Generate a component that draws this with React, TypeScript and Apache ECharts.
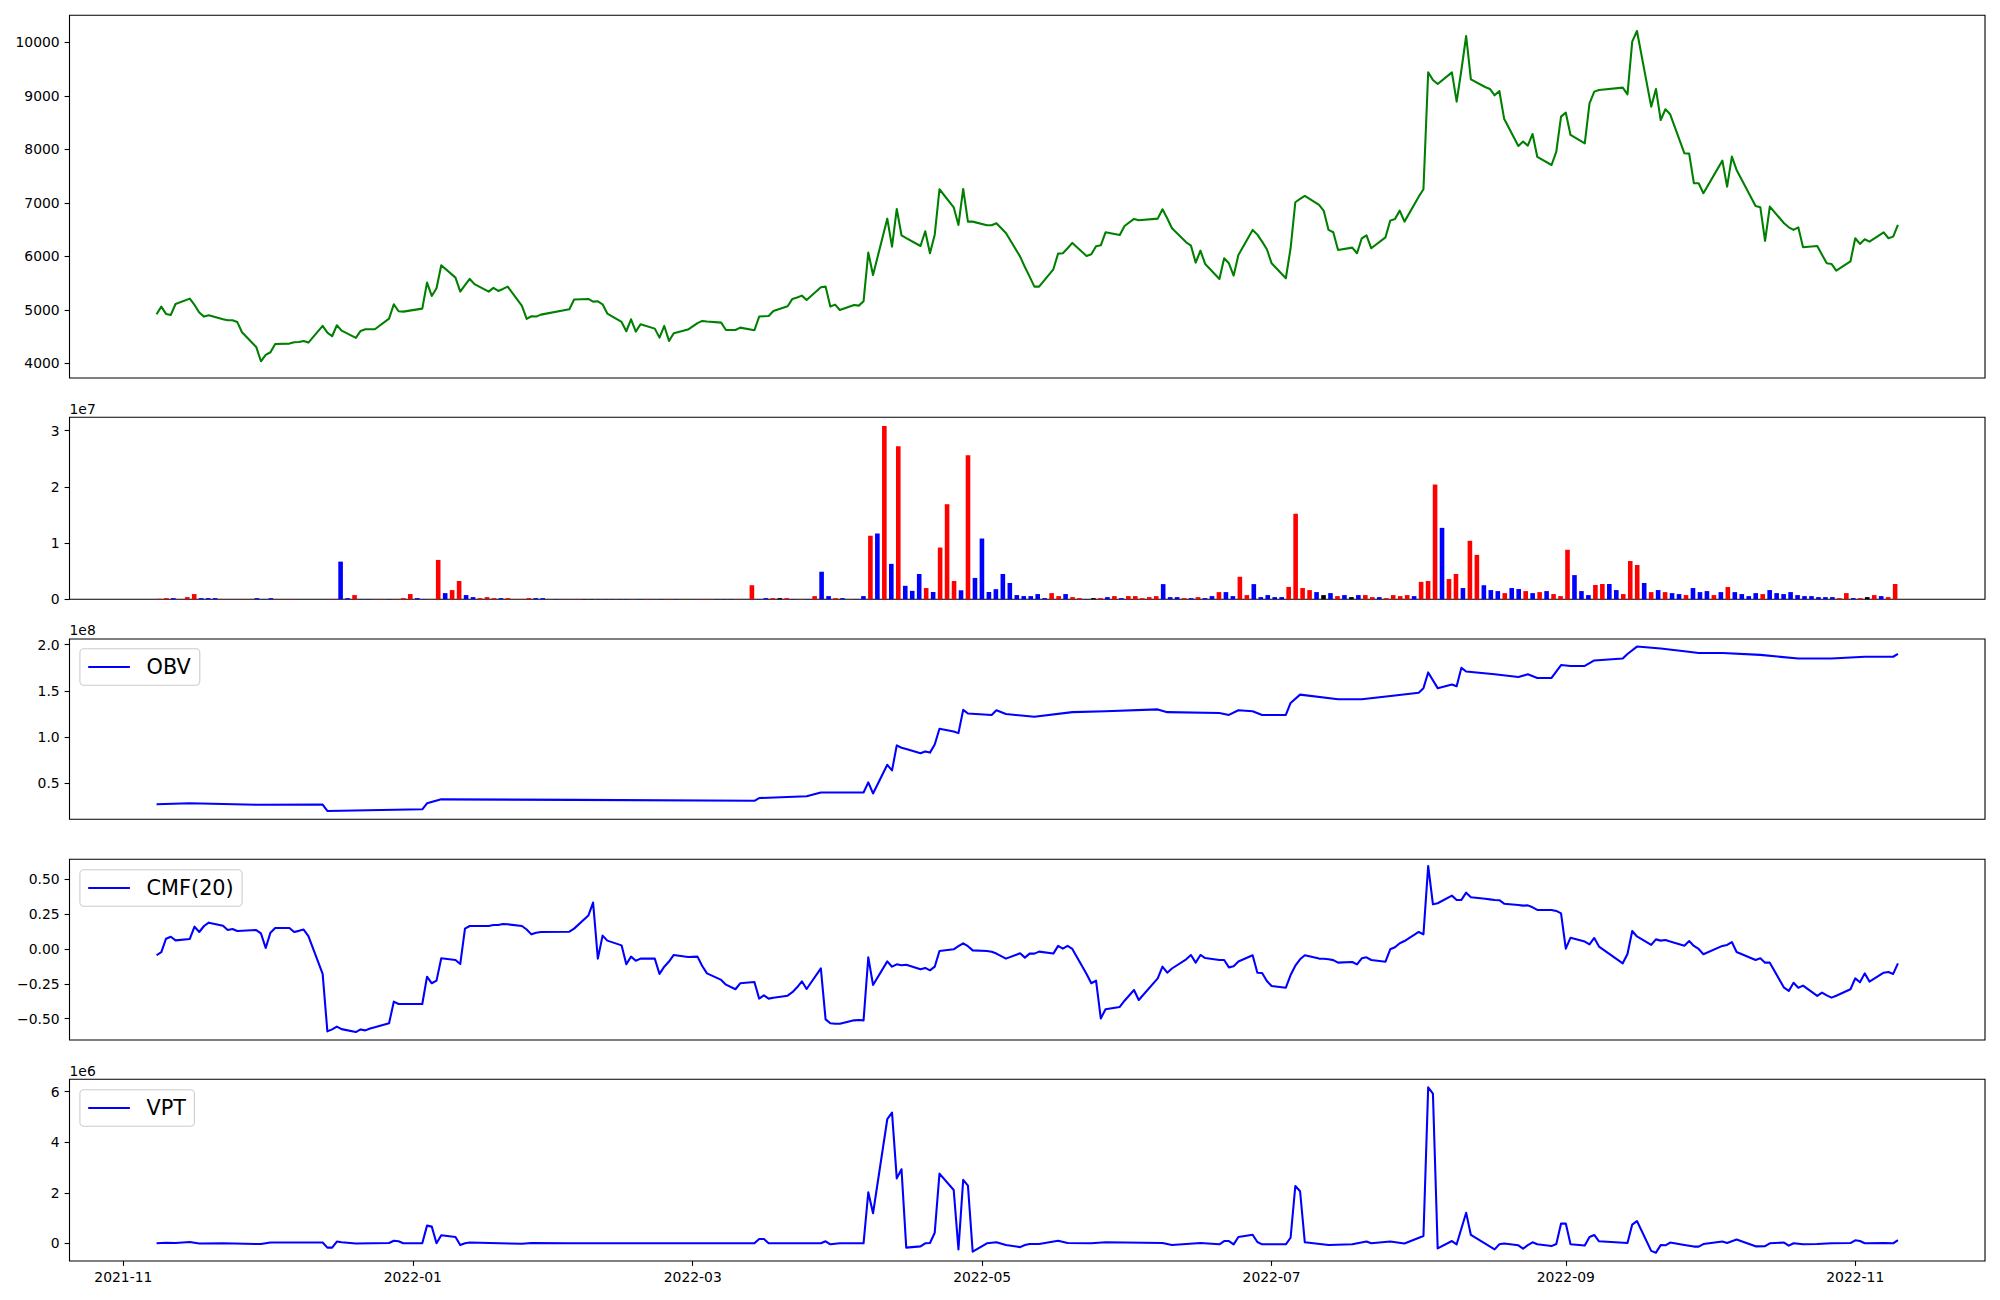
import React, { useEffect, useRef } from "react";
import * as echarts from "echarts";

// ---------------- DATA ----------------
const priceSeries: [string, number][] = [
["2021-11-08",4916],["2021-11-09",5060],["2021-11-10",4923],["2021-11-11",4904],["2021-11-12",5109],
["2021-11-15",5209],["2021-11-16",5091],["2021-11-17",4948],["2021-11-18",4873],["2021-11-19",4898],
["2021-11-22",4823],["2021-11-23",4804],["2021-11-24",4804],["2021-11-25",4773],["2021-11-26",4580],
["2021-11-29",4306],["2021-11-30",4038],["2021-12-01",4156],["2021-12-02",4206],["2021-12-03",4362],
["2021-12-06",4368],["2021-12-07",4393],["2021-12-08",4399],["2021-12-09",4418],["2021-12-10",4387],
["2021-12-13",4698],["2021-12-14",4573],["2021-12-15",4505],["2021-12-16",4711],["2021-12-17",4611],
["2021-12-20",4474],["2021-12-21",4605],["2021-12-22",4636],["2021-12-23",4636],["2021-12-24",4636],
["2021-12-27",4835],["2021-12-28",5103],["2021-12-29",4972],["2021-12-30",4966],
["2022-01-03",5022],["2022-01-04",5508],["2022-01-05",5259],["2022-01-06",5402],["2022-01-07",5832],
["2022-01-10",5602],["2022-01-11",5340],["2022-01-12",5460],["2022-01-13",5577],["2022-01-14",5480],
["2022-01-17",5340],["2022-01-18",5409],["2022-01-19",5352],["2022-01-20",5390],["2022-01-21",5433],
["2022-01-24",5072],["2022-01-25",4829],["2022-01-26",4879],["2022-01-27",4873],["2022-01-28",4910],
["2022-02-03",5010],["2022-02-04",5191],["2022-02-07",5203],["2022-02-08",5153],["2022-02-09",5159],["2022-02-10",5103],["2022-02-11",4929],
["2022-02-14",4773],["2022-02-15",4599],["2022-02-16",4823],["2022-02-17",4592],["2022-02-18",4729],
["2022-02-21",4648],["2022-02-22",4480],["2022-02-23",4698],["2022-02-24",4418],["2022-02-25",4561],
["2022-02-28",4630],["2022-03-02",4750],["2022-03-03",4792],["2022-03-04",4780],
["2022-03-07",4760],["2022-03-08",4623],["2022-03-10",4623],["2022-03-11",4667],
["2022-03-14",4617],["2022-03-15",4873],["2022-03-16",4880],["2022-03-17",4885],["2022-03-18",4979],
["2022-03-21",5066],["2022-03-22",5203],["2022-03-23",5230],["2022-03-24",5265],["2022-03-25",5184],
["2022-03-28",5421],["2022-03-29",5433],["2022-03-30",5060],["2022-03-31",5097],["2022-04-01",4997],
["2022-04-04",5091],["2022-04-05",5078],["2022-04-06",5159],["2022-04-07",6069],["2022-04-08",5651],
["2022-04-11",6704],["2022-04-12",6181],["2022-04-13",6885],["2022-04-14",6393],["2022-04-15",6340],
["2022-04-18",6193],["2022-04-19",6468],["2022-04-20",6057],["2022-04-21",6405],["2022-04-22",7253],
["2022-04-25",6916],["2022-04-26",6586],["2022-04-27",7259],["2022-04-28",6648],["2022-04-29",6648],
["2022-05-02",6580],["2022-05-03",6580],["2022-05-04",6617],["2022-05-06",6437],
["2022-05-09",5994],["2022-05-10",5800],["2022-05-11",5620],["2022-05-12",5433],["2022-05-13",5433],
["2022-05-16",5757],["2022-05-17",6050],["2022-05-18",6057],["2022-05-19",6150],["2022-05-20",6250],
["2022-05-23",6007],["2022-05-24",6038],["2022-05-25",6187],["2022-05-26",6206],["2022-05-27",6449],
["2022-05-30",6399],["2022-05-31",6567],["2022-06-02",6698],["2022-06-03",6673],
["2022-06-07",6704],["2022-06-08",6879],["2022-06-09",6710],["2022-06-10",6524],
["2022-06-13",6262],["2022-06-14",6200],["2022-06-15",5882],["2022-06-16",6106],["2022-06-17",5857],
["2022-06-20",5577],["2022-06-21",5963],["2022-06-22",5869],["2022-06-23",5639],["2022-06-24",6025],
["2022-06-27",6493],["2022-06-28",6405],["2022-06-29",6274],["2022-06-30",6131],["2022-07-01",5869],
["2022-07-04",5589],["2022-07-05",6150],["2022-07-06",7010],["2022-07-07",7072],["2022-07-08",7128],
["2022-07-11",6960],["2022-07-12",6848],["2022-07-13",6493],["2022-07-14",6449],["2022-07-15",6118],
["2022-07-18",6162],["2022-07-19",6057],["2022-07-20",6337],["2022-07-21",6393],["2022-07-22",6150],
["2022-07-25",6355],["2022-07-26",6667],["2022-07-27",6698],["2022-07-28",6854],["2022-07-29",6648],
["2022-08-01",7115],["2022-08-02",7253],["2022-08-03",9439],["2022-08-04",9296],["2022-08-05",9221],
["2022-08-08",9439],["2022-08-09",8891],["2022-08-10",9483],["2022-08-11",10118],["2022-08-12",9308],
["2022-08-15",9165],["2022-08-16",9128],["2022-08-17",9009],["2022-08-18",9090],["2022-08-19",8573],
["2022-08-22",8062],["2022-08-23",8144],["2022-08-24",8069],["2022-08-25",8287],["2022-08-26",7857],
["2022-08-29",7707],["2022-08-30",7957],["2022-08-31",8611],["2022-09-01",8685],["2022-09-02",8268],
["2022-09-05",8112],["2022-09-06",8860],["2022-09-07",9078],["2022-09-08",9110],
["2022-09-13",9153],["2022-09-14",9028],["2022-09-15",10012],["2022-09-16",10212],
["2022-09-19",8798],["2022-09-20",9128],["2022-09-21",8548],["2022-09-22",8748],["2022-09-23",8654],
["2022-09-26",7925],["2022-09-27",7919],["2022-09-28",7365],["2022-09-29",7365],["2022-09-30",7178],
["2022-10-04",7788],["2022-10-05",7302],["2022-10-06",7863],["2022-10-07",7614],
["2022-10-11",6941],["2022-10-12",6916],["2022-10-13",6287],["2022-10-14",6928],
["2022-10-17",6617],["2022-10-18",6542],["2022-10-19",6493],["2022-10-20",6542],["2022-10-21",6169],
["2022-10-24",6193],["2022-10-25",6030],["2022-10-26",5869],["2022-10-27",5857],["2022-10-28",5732],
["2022-10-31",5907],["2022-11-01",6337],["2022-11-02",6231],["2022-11-03",6318],["2022-11-04",6274],
["2022-11-07",6449],["2022-11-08",6337],["2022-11-09",6368],["2022-11-10",6586]
];

// daily volume, in millions of shares, one per trading session (index axis)
const volumeMillions: number[] = [
0.09,0.21,0.21,0.03,0.39,0.93,0.21,0.21,0.21,0.05,
0.05,0.05,0.05,0.05,0.21,0.05,0.21,0.05,0.05,0.05,
0,0,0,0,0,0.05,6.7,0.21,0.75,0.05,
0.05,0.05,0.05,0.05,0.05,0.21,0.93,0.21,0.05,0.05,
7.0,1.1,1.64,3.25,0.75,0.39,0.21,0.39,0.21,0.21,
0.21,0.05,0.05,0.21,0.21,0.21,0.05,0.05,0.05,0.05,
0.05,0.05,0.05,0.05,0.05,0.05,0.05,0.05,0.05,0.05,
0.05,0,0.05,0.05,0.05,0.05,0,0.05,0.05,0.05,
0.05,0.05,0.05,0.05,0,2.5,0.05,0.21,0.21,0.21,
0.21,0.05,0.05,0.05,0.57,4.9,0.57,0.21,0.21,0.05,
0.05,0.57,11.3,11.7,30.8,6.3,27.2,2.4,1.5,4.5,
2.0,1.3,9.2,16.9,3.25,1.6,25.6,3.8,10.8,1.3,
1.8,4.5,2.9,0.75,0.57,0.57,0.93,0.21,1.1,0.57,
0.93,0.39,0.21,0.05,0.21,0.21,0.39,0.57,0.21,0.57,
0.57,0.21,0.39,0.57,2.7,0.39,0.39,0.21,0.21,0.39,
0.21,0.57,1.28,1.28,0.57,4.0,0.75,2.7,0.39,0.75,
0.39,0.39,2.2,15.2,2.0,1.64,1.28,0.75,1.1,0.57,
0.75,0.39,0.75,0.75,0.39,0.39,0.21,0.75,0.57,0.75,
0.57,3.1,3.25,20.4,12.7,3.6,4.5,2.0,10.4,7.9,
2.5,1.64,1.46,1.1,2.0,1.82,1.46,1.1,1.28,1.46,
0.93,0.57,8.8,4.3,1.46,0.75,2.54,2.72,2.72,1.64,
0.93,6.8,6.1,2.9,1.28,1.64,1.28,1.1,0.93,0.75,
2.0,1.28,1.46,0.75,1.28,2.18,1.28,0.93,0.57,1.1,
0.93,1.64,1.1,0.93,1.28,0.75,0.57,0.57,0.39,0.39,
0.39,0.21,1.1,0.21,0.21,0.39,0.75,0.57,0.39,2.72
];

// r = up session, b = down session, k = unchanged, - = none
const volumeDirection: string =
  "rrbrrrbbbr" + "rrrrbbbrrr" + "-----rbbrb" + "brrbrrrbbr" + "rbrrbbrrrb" +
  "rrrrbbrbrr" + "rkkbbbbbrb" + "r-brbr-rrr" + "bbbr-rbbrk" + "rbrbrbbrbr" +
  "bbrbrbrbbb" + "rbrrrbrbbb" + "bbbbbbbbrr" + "brrbkrbrbr" + "rrrrbbbrbr" +
  "bbrbbrrbbb" + "bbrrrrbkbr" + "bkbrrbrrrr" + "brrrbrrbrr" + "bbbrbbrbrb" +
  "rrrbbbrrbb" + "rrrbrbrbbr" + "bbbrbrbbbb" + "rbbbbbbbbb" + "brrbrkrbrr";

// OBV in units of 1e8
const obvSeries: [string, number][] = [
["2021-11-08",0.273],["2021-11-15",0.283],["2021-11-29",0.268],["2021-12-13",0.270],["2021-12-14",0.200],
["2022-01-03",0.218],["2022-01-04",0.283],["2022-01-07",0.326],["2022-02-04",0.320],["2022-03-14",0.310],
["2022-03-15",0.340],["2022-03-25",0.360],["2022-03-28",0.400],["2022-04-06",0.400],["2022-04-07",0.510],
["2022-04-08",0.390],["2022-04-11",0.700],["2022-04-12",0.640],["2022-04-13",0.910],["2022-04-14",0.885],
["2022-04-15",0.870],["2022-04-18",0.825],["2022-04-19",0.845],["2022-04-20",0.832],["2022-04-21",0.920],
["2022-04-22",1.090],["2022-04-25",1.060],["2022-04-26",1.043],["2022-04-27",1.295],["2022-04-28",1.255],
["2022-05-03",1.240],["2022-05-04",1.290],["2022-05-06",1.250],["2022-05-12",1.220],["2022-05-20",1.270],
["2022-05-27",1.280],["2022-06-07",1.300],["2022-06-09",1.270],["2022-06-20",1.260],["2022-06-22",1.240],
["2022-06-24",1.290],["2022-06-27",1.280],["2022-06-29",1.240],["2022-07-04",1.240],["2022-07-05",1.370],
["2022-07-07",1.460],["2022-07-15",1.410],["2022-07-20",1.410],["2022-07-27",1.450],["2022-08-01",1.480],
["2022-08-02",1.530],["2022-08-03",1.700],["2022-08-05",1.530],["2022-08-08",1.570],["2022-08-09",1.550],
["2022-08-10",1.750],["2022-08-11",1.710],["2022-08-17",1.680],["2022-08-22",1.650],["2022-08-24",1.680],
["2022-08-26",1.640],["2022-08-29",1.640],["2022-08-31",1.780],["2022-09-02",1.770],["2022-09-05",1.770],
["2022-09-07",1.830],["2022-09-13",1.850],["2022-09-14",1.900],["2022-09-16",1.980],["2022-09-21",1.960],
["2022-09-26",1.930],["2022-09-29",1.910],["2022-10-04",1.910],["2022-10-12",1.890],["2022-10-20",1.850],
["2022-10-27",1.850],["2022-11-03",1.870],["2022-11-09",1.870],["2022-11-10",1.900]
];

const cmfSeries: [string, number][] = [
["2021-11-08",-0.045],["2021-11-09",-0.022],["2021-11-10",0.074],["2021-11-11",0.088],["2021-11-12",0.062],
["2021-11-15",0.072],["2021-11-16",0.160],["2021-11-17",0.122],["2021-11-18",0.165],["2021-11-19",0.189],
["2021-11-22",0.167],["2021-11-23",0.136],["2021-11-24",0.143],["2021-11-25",0.129],["2021-11-26",0.131],
["2021-11-29",0.136],["2021-11-30",0.112],["2021-12-01",0.007],["2021-12-02",0.117],["2021-12-03",0.151],
["2021-12-06",0.151],["2021-12-07",0.122],["2021-12-08",0.130],["2021-12-09",0.139],["2021-12-10",0.093],
["2021-12-13",-0.179],["2021-12-14",-0.591],["2021-12-15",-0.577],["2021-12-16",-0.557],["2021-12-17",-0.575],
["2021-12-20",-0.596],["2021-12-21",-0.577],["2021-12-22",-0.584],["2021-12-23",-0.570],["2021-12-24",-0.562],
["2021-12-27",-0.533],["2021-12-28",-0.378],["2021-12-29",-0.395],["2021-12-30",-0.395],
["2022-01-03",-0.395],["2022-01-04",-0.199],["2022-01-05",-0.246],["2022-01-06",-0.227],["2022-01-07",-0.067],
["2022-01-10",-0.079],["2022-01-11",-0.108],["2022-01-12",0.146],["2022-01-13",0.165],["2022-01-14",0.165],
["2022-01-17",0.165],["2022-01-18",0.172],["2022-01-19",0.172],["2022-01-20",0.179],["2022-01-21",0.177],
["2022-01-24",0.165],["2022-01-25",0.140],["2022-01-26",0.105],["2022-01-27",0.117],["2022-01-28",0.122],
["2022-02-03",0.124],["2022-02-04",0.146],["2022-02-07",0.240],["2022-02-08",0.333],["2022-02-09",-0.069],
["2022-02-10",0.096],["2022-02-11",0.060],["2022-02-14",0.026],["2022-02-15",-0.110],["2022-02-16",-0.055],
["2022-02-17",-0.084],["2022-02-18",-0.069],["2022-02-21",-0.069],["2022-02-22",-0.179],["2022-02-23",-0.127],
["2022-02-24",-0.090],["2022-02-25",-0.043],["2022-02-28",-0.057],["2022-03-02",-0.055],["2022-03-03",-0.122],
["2022-03-04",-0.175],["2022-03-07",-0.222],["2022-03-08",-0.256],["2022-03-10",-0.289],["2022-03-11",-0.246],
["2022-03-14",-0.237],["2022-03-15",-0.356],["2022-03-16",-0.333],["2022-03-17",-0.356],["2022-03-18",-0.350],
["2022-03-21",-0.335],["2022-03-22",-0.310],["2022-03-23",-0.275],["2022-03-24",-0.232],["2022-03-25",-0.287],
["2022-03-28",-0.139],["2022-03-29",-0.505],["2022-03-30",-0.533],["2022-03-31",-0.536],["2022-04-01",-0.536],
["2022-04-04",-0.512],["2022-04-05",-0.510],["2022-04-06",-0.512],["2022-04-07",-0.060],["2022-04-08",-0.258],
["2022-04-11",-0.089],["2022-04-12",-0.127],["2022-04-13",-0.110],["2022-04-14",-0.117],["2022-04-15",-0.113],
["2022-04-18",-0.146],["2022-04-19",-0.136],["2022-04-20",-0.153],["2022-04-21",-0.127],["2022-04-22",-0.014],
["2022-04-25",-0.002],["2022-04-26",0.020],["2022-04-27",0.041],["2022-04-28",0.020],["2022-04-29",-0.010],
["2022-05-02",-0.014],["2022-05-03",-0.020],["2022-05-04",-0.033],["2022-05-06",-0.069],
["2022-05-09",-0.031],["2022-05-10",-0.062],["2022-05-11",-0.033],["2022-05-12",-0.033],["2022-05-13",-0.019],
["2022-05-16",-0.033],["2022-05-17",0.022],["2022-05-18",0.002],["2022-05-19",0.022],["2022-05-20",0.000],
["2022-05-23",-0.180],["2022-05-24",-0.246],["2022-05-25",-0.227],["2022-05-26",-0.498],["2022-05-27",-0.433],
["2022-05-30",-0.416],["2022-05-31",-0.371],["2022-06-02",-0.294],["2022-06-03",-0.366],
["2022-06-07",-0.211],["2022-06-08",-0.127],["2022-06-09",-0.170],["2022-06-10",-0.140],
["2022-06-13",-0.074],["2022-06-14",-0.043],["2022-06-15",-0.098],["2022-06-16",-0.043],["2022-06-17",-0.065],
["2022-06-20",-0.079],["2022-06-21",-0.079],["2022-06-22",-0.132],["2022-06-23",-0.124],["2022-06-24",-0.090],
["2022-06-27",-0.045],["2022-06-28",-0.170],["2022-06-29",-0.172],["2022-06-30",-0.230],["2022-07-01",-0.266],
["2022-07-04",-0.278],["2022-07-05",-0.187],["2022-07-06",-0.120],["2022-07-07",-0.074],["2022-07-08",-0.045],
["2022-07-11",-0.069],["2022-07-12",-0.070],["2022-07-13",-0.074],["2022-07-14",-0.080],["2022-07-15",-0.098],
["2022-07-18",-0.093],["2022-07-19",-0.110],["2022-07-20",-0.067],["2022-07-21",-0.060],["2022-07-22",-0.079],
["2022-07-25",-0.091],["2022-07-26",-0.002],["2022-07-27",0.012],["2022-07-28",0.041],["2022-07-29",0.057],
["2022-08-01",0.122],["2022-08-02",0.105],["2022-08-03",0.596],["2022-08-04",0.321],["2022-08-05",0.328],
["2022-08-08",0.383],["2022-08-09",0.352],["2022-08-10",0.352],["2022-08-11",0.404],["2022-08-12",0.371],
["2022-08-15",0.360],["2022-08-16",0.356],["2022-08-17",0.352],["2022-08-18",0.350],["2022-08-19",0.325],
["2022-08-22",0.316],["2022-08-23",0.311],["2022-08-24",0.313],["2022-08-25",0.299],["2022-08-26",0.280],
["2022-08-29",0.280],["2022-08-30",0.273],["2022-08-31",0.256],["2022-09-01",0.002],["2022-09-02",0.081],
["2022-09-05",0.053],["2022-09-06",0.033],["2022-09-07",0.079],["2022-09-08",0.017],
["2022-09-13",-0.103],["2022-09-14",-0.036],["2022-09-15",0.129],["2022-09-16",0.090],
["2022-09-19",0.029],["2022-09-20",0.069],["2022-09-21",0.060],["2022-09-22",0.064],["2022-09-23",0.053],
["2022-09-26",0.024],["2022-09-27",0.057],["2022-09-28",0.022],["2022-09-29",0.000],["2022-09-30",-0.038],
["2022-10-04",0.022],["2022-10-05",0.029],["2022-10-06",0.050],["2022-10-07",-0.022],
["2022-10-11",-0.079],["2022-10-12",-0.067],["2022-10-13",-0.098],["2022-10-14",-0.098],
["2022-10-17",-0.278],["2022-10-18",-0.301],["2022-10-19",-0.242],["2022-10-20",-0.278],["2022-10-21",-0.263],
["2022-10-24",-0.337],["2022-10-25",-0.313],["2022-10-26",-0.333],["2022-10-27",-0.349],["2022-10-28",-0.335],
["2022-10-31",-0.289],["2022-11-01",-0.211],["2022-11-02",-0.239],["2022-11-03",-0.175],["2022-11-04",-0.234],
["2022-11-07",-0.170],["2022-11-08",-0.165],["2022-11-09",-0.179],["2022-11-10",-0.103]
];

// VPT in units of 1e6
const vptSeries: [string, number][] = [
["2021-11-08",0.00],["2021-11-09",0.01],["2021-11-10",0.02],["2021-11-12",0.01],["2021-11-15",0.05],
["2021-11-17",-0.01],["2021-11-22",0.00],["2021-11-30",-0.03],["2021-12-02",0.03],["2021-12-10",0.03],
["2021-12-13",0.03],["2021-12-14",-0.17],["2021-12-15",-0.17],["2021-12-16",0.07],["2021-12-17",0.04],
["2021-12-20",-0.01],["2021-12-27",0.01],["2021-12-28",0.10],["2021-12-29",0.08],["2021-12-30",0.00],
["2022-01-03",0.00],["2022-01-04",0.70],["2022-01-05",0.66],["2022-01-06",0.00],["2022-01-07",0.32],
["2022-01-10",0.25],["2022-01-11",-0.07],["2022-01-12",0.00],["2022-01-13",0.03],["2022-01-24",-0.02],
["2022-01-26",0.01],["2022-02-03",0.00],["2022-03-14",0.00],["2022-03-15",0.17],["2022-03-16",0.17],
["2022-03-17",0.00],["2022-03-28",0.00],["2022-03-29",0.08],["2022-03-30",-0.04],["2022-04-01",0.00],
["2022-04-06",0.00],["2022-04-07",2.02],["2022-04-08",1.19],["2022-04-11",4.91],["2022-04-12",5.17],
["2022-04-13",2.57],["2022-04-14",2.93],["2022-04-15",-0.17],["2022-04-18",-0.12],["2022-04-19",0.00],
["2022-04-20",0.01],["2022-04-21",0.42],["2022-04-22",2.76],["2022-04-25",2.11],["2022-04-26",-0.24],
["2022-04-27",2.51],["2022-04-28",2.28],["2022-04-29",-0.33],["2022-05-02",0.00],["2022-05-04",0.04],
["2022-05-06",-0.07],["2022-05-09",-0.15],["2022-05-10",-0.07],["2022-05-11",-0.03],["2022-05-13",-0.03],
["2022-05-17",0.10],["2022-05-19",0.01],["2022-05-24",0.00],["2022-05-27",0.04],["2022-06-08",0.01],
["2022-06-10",-0.07],["2022-06-16",0.01],["2022-06-20",-0.04],["2022-06-21",0.09],["2022-06-22",0.09],
["2022-06-23",-0.04],["2022-06-24",0.25],["2022-06-27",0.34],["2022-06-28",0.05],["2022-06-29",-0.04],
["2022-07-04",-0.04],["2022-07-05",0.22],["2022-07-06",2.27],["2022-07-07",2.06],["2022-07-08",0.04],
["2022-07-13",-0.07],["2022-07-18",-0.04],["2022-07-21",0.07],["2022-07-22",0.00],["2022-07-26",0.07],
["2022-07-29",-0.01],["2022-08-02",0.29],["2022-08-03",6.17],["2022-08-04",5.92],["2022-08-05",-0.20],
["2022-08-08",0.09],["2022-08-09",-0.04],["2022-08-11",1.21],["2022-08-12",0.33],["2022-08-17",-0.24],
["2022-08-18",-0.04],["2022-08-19",-0.01],["2022-08-22",-0.08],["2022-08-23",-0.21],["2022-08-24",-0.07],
["2022-08-25",0.04],["2022-08-26",-0.04],["2022-08-29",-0.11],["2022-08-30",-0.03],["2022-08-31",0.78],
["2022-09-01",0.78],["2022-09-02",-0.04],["2022-09-05",-0.09],["2022-09-06",0.25],["2022-09-07",0.33],
["2022-09-08",0.08],["2022-09-14",0.01],["2022-09-15",0.74],["2022-09-16",0.88],["2022-09-19",-0.30],
["2022-09-20",-0.37],["2022-09-21",-0.07],["2022-09-22",-0.08],["2022-09-23",0.03],["2022-09-26",-0.07],
["2022-09-28",-0.13],["2022-09-29",-0.13],["2022-09-30",-0.03],["2022-10-04",0.07],["2022-10-05",0.01],
["2022-10-07",0.15],["2022-10-11",-0.12],["2022-10-13",-0.11],["2022-10-14",0.00],["2022-10-17",0.03],
["2022-10-18",-0.09],["2022-10-19",0.00],["2022-10-21",-0.04],["2022-10-24",-0.03],["2022-10-27",0.00],
["2022-10-31",0.01],["2022-11-01",0.12],["2022-11-02",0.09],["2022-11-03",0.00],["2022-11-07",0.01],
["2022-11-09",0.00],["2022-11-10",0.13]
];

const priceTicks = [4000, 5000, 6000, 7000, 8000, 9000, 10000];
const volumeTicks = [0, 1, 2, 3]; // x 1e7
const obvTicks = [0.5, 1.0, 1.5, 2.0]; // x 1e8
const cmfTicks = [-0.5, -0.25, 0, 0.25, 0.5];
const vptTicks = [0, 2, 4, 6]; // x 1e6
const dateTicks = ["2021-11-01", "2022-01-01", "2022-03-01", "2022-05-01", "2022-07-01", "2022-09-01", "2022-11-01"];

// ---------------- CHART ----------------
const FONT = "DejaVu Sans";
const T = (s: string) => {
  const [y, m, d] = s.split("-").map(Number);
  return Date.UTC(y, m - 1, d);
};
const pad2 = (n: number) => (n < 10 ? "0" + n : "" + n);
const X_MIN = Date.UTC(2021, 9, 20, 15, 36);
const X_MAX = Date.UTC(2022, 10, 28, 8, 24);
const N_BARS = volumeMillions.length;
const IDX_MARGIN = (N_BARS - 1 + 0.8) * 0.05;

const LEFT = 69.5;
const WIDTH = 1915.5;
const grids = [
  { top: 15.3, height: 362.7 },
  { top: 417.3, height: 182 },
  { top: 639, height: 180.3 },
  { top: 859.3, height: 180.7 },
  { top: 1079.3, height: 181.7 },
];

const tickStyle = { color: "#000", width: 1.1 };
const labelBase = { color: "#000", fontSize: 13.9, fontFamily: FONT, margin: 9.8 };

function yAxis(gridIndex: number, min: number, max: number, ticks: number[], fmt: (v: number) => string) {
  return {
    type: "value",
    gridIndex,
    min,
    max,
    position: "left",
    splitLine: { show: false },
    axisLine: { show: false, onZero: false },
    axisTick: { show: true, customValues: ticks, length: 4.9, lineStyle: tickStyle },
    axisLabel: { ...labelBase, customValues: ticks, formatter: (v: number) => fmt(v) },
  };
}

function hiddenDateAxis(gridIndex: number) {
  return { type: "value", gridIndex, min: X_MIN, max: X_MAX, show: false, axisLine: { onZero: false } };
}

function lineSeries(name: string, idx: number, data: [string, number][], scale: number, color: string) {
  return {
    name,
    type: "line",
    xAxisIndex: idx,
    yAxisIndex: idx,
    data: data.map(([d, v]) => [T(d), v * scale]),
    showSymbol: false,
    symbol: "none",
    color,
    lineStyle: { color, width: 2.08, join: "round" },
    silent: true,
    z: 3,
  };
}

function legendBox(top: number, label: string, width: number) {
  const cy = top + 18.3;
  return [
    {
      type: "rect",
      z: 100,
      shape: { x: 79.9, y: top, width, height: 36.6, r: 4 },
      style: { fill: "rgba(255,255,255,0.8)", stroke: "#cccccc", lineWidth: 1.1 },
    },
    {
      type: "line",
      z: 101,
      shape: { x1: 88.2, y1: cy, x2: 129.9, y2: cy },
      style: { stroke: "#0000ff", lineWidth: 2.08 },
    },
    {
      type: "text",
      z: 101,
      x: 146.6,
      y: cy,
      style: { text: label, fill: "#000", fontSize: 20.8, fontFamily: FONT, align: "left", verticalAlign: "middle" },
    },
  ];
}

function offsetText(cy: number, label: string) {
  return {
    type: "text",
    z: 100,
    x: LEFT,
    y: cy,
    style: { text: label, fill: "#000", fontSize: 13.9, fontFamily: FONT, align: "left", verticalAlign: "middle" },
  };
}

function buildOption() {
  const colorOf: Record<string, string> = { r: "#ff0000", b: "#0000ff", k: "#000000", "-": "#ffffff" };
  const barData = volumeMillions.map((v, i) => ({
    value: [i, v * 1e6],
    itemStyle: { color: colorOf[volumeDirection[i]] || "#000" },
  }));
  const fmtMinus = (s: string) => s.replace("-", "\u2212");

  return {
    animation: false,
    backgroundColor: "#ffffff",
    grid: grids.map((g) => ({
      left: LEFT,
      width: WIDTH,
      top: g.top,
      height: g.height,
      show: true,
      borderColor: "#000",
      borderWidth: 1.1,
      backgroundColor: "transparent",
      containLabel: false,
    })),
    xAxis: [
      hiddenDateAxis(0),
      {
        type: "value",
        gridIndex: 1,
        min: -0.4 - IDX_MARGIN,
        max: N_BARS - 1 + 0.4 + IDX_MARGIN,
        show: false,
        axisLine: { onZero: false },
      },
      hiddenDateAxis(2),
      hiddenDateAxis(3),
      {
        type: "value",
        gridIndex: 4,
        min: X_MIN,
        max: X_MAX,
        position: "bottom",
        splitLine: { show: false },
        axisLine: { show: false, onZero: false },
        axisTick: { show: true, customValues: dateTicks.map(T), length: 4.9, lineStyle: tickStyle },
        axisLabel: {
          ...labelBase,
          margin: 8.5,
          customValues: dateTicks.map(T),
          formatter: (v: number) => {
            const d = new Date(v);
            return d.getUTCFullYear() + "-" + pad2(d.getUTCMonth() + 1);
          },
        },
      },
    ],
    yAxis: [
      yAxis(0, 3725, 10505, priceTicks, (v) => String(v)),
      yAxis(1, 0, 3.235e7, volumeTicks.map((t) => t * 1e7), (v) => String(Math.round(v / 1e7))),
      yAxis(2, 0.110e8, 2.062e8, obvTicks.map((t) => t * 1e8), (v) => (v / 1e8).toFixed(1)),
      yAxis(3, -0.653, 0.6435, cmfTicks, (v) => fmtMinus(v.toFixed(2))),
      yAxis(4, -0.70e6, 6.49e6, vptTicks.map((t) => t * 1e6), (v) => String(Math.round(v / 1e6))),
    ],
    series: [
      lineSeries("Close", 0, priceSeries, 1, "#008000"),
      {
        name: "Volume",
        type: "bar",
        xAxisIndex: 1,
        yAxisIndex: 1,
        data: barData,
        barWidth: 4.6,
        silent: true,
        z: 3,
      },
      lineSeries("OBV", 2, obvSeries, 1e8, "#0000ff"),
      lineSeries("CMF(20)", 3, cmfSeries, 1, "#0000ff"),
      lineSeries("VPT", 4, vptSeries, 1e6, "#0000ff"),
    ],
    graphic: [
      offsetText(408.5, "1e7"),
      offsetText(629.5, "1e8"),
      offsetText(1070.5, "1e6"),
      ...legendBox(648.7, "OBV", 119.9),
      ...legendBox(869.7, "CMF(20)", 162.2),
      ...legendBox(1089.7, "VPT", 114.5),
    ],
  };
}

export default function App() {
  const ref = useRef<HTMLDivElement>(null);
  useEffect(() => {
    if (!ref.current) return;
    const chart = echarts.init(ref.current, null, { renderer: "svg" });
    chart.setOption(buildOption() as any);
    return () => chart.dispose();
  }, []);
  return (
    <div
      ref={ref}
      style={{ position: "absolute", left: 0, top: 0, width: 2000, height: 1300, background: "#ffffff" }}
    />
  );
}
